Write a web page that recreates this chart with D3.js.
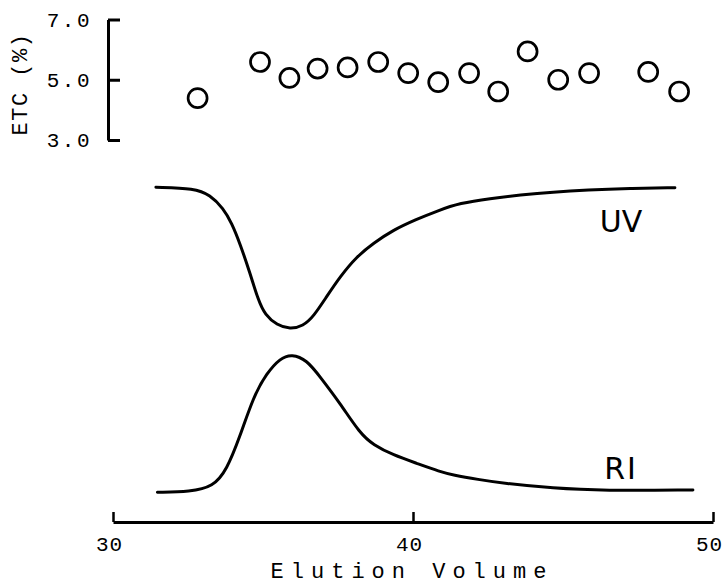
<!DOCTYPE html>
<html><head><meta charset="utf-8">
<script src="https://cdn.jsdelivr.net/npm/d3@7"></script>
<style>body{margin:0;background:#fff}</style>
</head><body><svg id="c" width="723" height="584"></svg>
<script>
// ---- data ----
const volumeTicks = [30, 40, 50];
const etcTicks = [3, 5, 7];
const etcVolume = [32.82, 34.9, 35.88, 36.82, 37.82, 38.84, 39.84, 40.84, 41.87, 42.84, 43.82, 44.84, 45.87, 47.84, 48.87];
const etcValue  = [4.39, 5.59, 5.06, 5.37, 5.41, 5.59, 5.22, 4.92, 5.22, 4.61, 5.94, 5.00, 5.22, 5.26, 4.61];
const uvVolume = [31.43, 32.73, 33.23, 33.68, 33.96, 34.23, 34.57, 34.84, 35.07, 35.46, 35.90, 36.34, 36.68, 37.12, 37.57, 38.12, 38.68, 39.34, 40.12, 40.80, 41.57, 42.57, 43.57, 44.67, 45.80, 47.23, 48.73];
const uvSignal = [312.7, 311.7, 305, 291.7, 276.7, 256.7, 226.7, 200, 185, 175, 170.7, 174, 183.3, 203.3, 223.3, 243.3, 256.7, 270, 280.7, 289, 297, 301.5, 305, 308, 310, 311.5, 312.3];
const riVolume = [31.48, 32.57, 33.34, 33.79, 34.23, 34.68, 35.12, 35.57, 35.96, 36.46, 36.90, 37.57, 38.23, 38.68, 39.34, 40.12, 40.90, 41.33, 42.17, 43.00, 44.67, 46.33, 49.33];
const riSignal = [7.7, 8.3, 13.3, 30, 63.3, 103.3, 126.7, 141.7, 146, 140, 123.3, 96.7, 66.7, 55, 45, 36.7, 28.3, 25, 20.5, 16.7, 11.7, 9.3, 10];
const traceLabels = ["UV", "RI"];

// ---- drawing ----
const svg = d3.select("#c");
const x = d3.scaleLinear().domain([30, 50]).range([113, 713]);
const yEtc = d3.scaleLinear().domain([3, 7]).range([140, 19.5]);
const yDet = d3.scaleLinear().domain([0, 320]).range([500, 180]);
const mono = "'Liberation Mono', 'DejaVu Sans Mono', monospace";

// top ETC axis
const gL = svg.append("g").attr("transform", "translate(108,0)")
  .call(d3.axisLeft(yEtc).tickValues(etcTicks).tickFormat(d3.format(".1f"))
        .tickSize(-12).tickSizeOuter(0).tickPadding(16));
gL.select(".domain").attr("stroke", "#000").attr("stroke-width", 3);
gL.selectAll(".tick line").attr("stroke", "#000").attr("stroke-width", 3);
gL.selectAll(".tick text").attr("font-family", mono).attr("font-size", 21)
  .attr("letter-spacing", 2.5).attr("fill", "#000");

svg.append("text").attr("transform", "translate(26.5,84) rotate(-90)")
  .attr("text-anchor", "middle").attr("font-family", mono).attr("font-size", 22)
  .attr("letter-spacing", 1.5).text("ETC (%)");

// ETC circles
svg.append("g").selectAll("circle").data(etcVolume).join("circle")
  .attr("cx", d => x(d)).attr("cy", (d, i) => yEtc(etcValue[i])).attr("r", 9.5)
  .attr("fill", "none").attr("stroke", "#000").attr("stroke-width", 2.7);

// traces
const line = d3.line().x(d => x(d[0])).y(d => yDet(d[1])).curve(d3.curveBasis);
svg.append("path").datum(d3.zip(uvVolume, uvSignal)).attr("d", line)
  .attr("fill", "none").attr("stroke", "#000").attr("stroke-width", 3).attr("stroke-linecap", "round");
svg.append("path").datum(d3.zip(riVolume, riSignal)).attr("d", line)
  .attr("fill", "none").attr("stroke", "#000").attr("stroke-width", 3).attr("stroke-linecap", "round");

svg.append("text").attr("x", 621).attr("y", 232).attr("text-anchor", "middle")
  .attr("font-family", "'DejaVu Sans', sans-serif").attr("font-size", 30).text(traceLabels[0]);
svg.append("text").attr("x", 621).attr("y", 479).attr("text-anchor", "middle")
  .attr("font-family", "'DejaVu Sans', sans-serif").attr("font-size", 30)
  .attr("letter-spacing", 2).text(traceLabels[1]);

// bottom axis
const gB = svg.append("g").attr("transform", "translate(0,522)")
  .call(d3.axisBottom(x).tickValues(volumeTicks).tickFormat(d3.format("d"))
        .tickSize(-10).tickSizeOuter(0).tickPadding(14));
gB.select(".domain").attr("stroke", "#000").attr("stroke-width", 3);
gB.selectAll(".tick line").attr("stroke", "#000").attr("stroke-width", 2.5);
gB.selectAll(".tick text").attr("font-family", mono).attr("font-size", 21)
  .attr("letter-spacing", 1).attr("dx", -4).attr("fill", "#000");

svg.append("text").attr("x", 412).attr("y", 578).attr("text-anchor", "middle")
  .attr("font-family", mono).attr("font-size", 22).attr("letter-spacing", 7)
  .text("Elution Volume");
</script></body></html>
